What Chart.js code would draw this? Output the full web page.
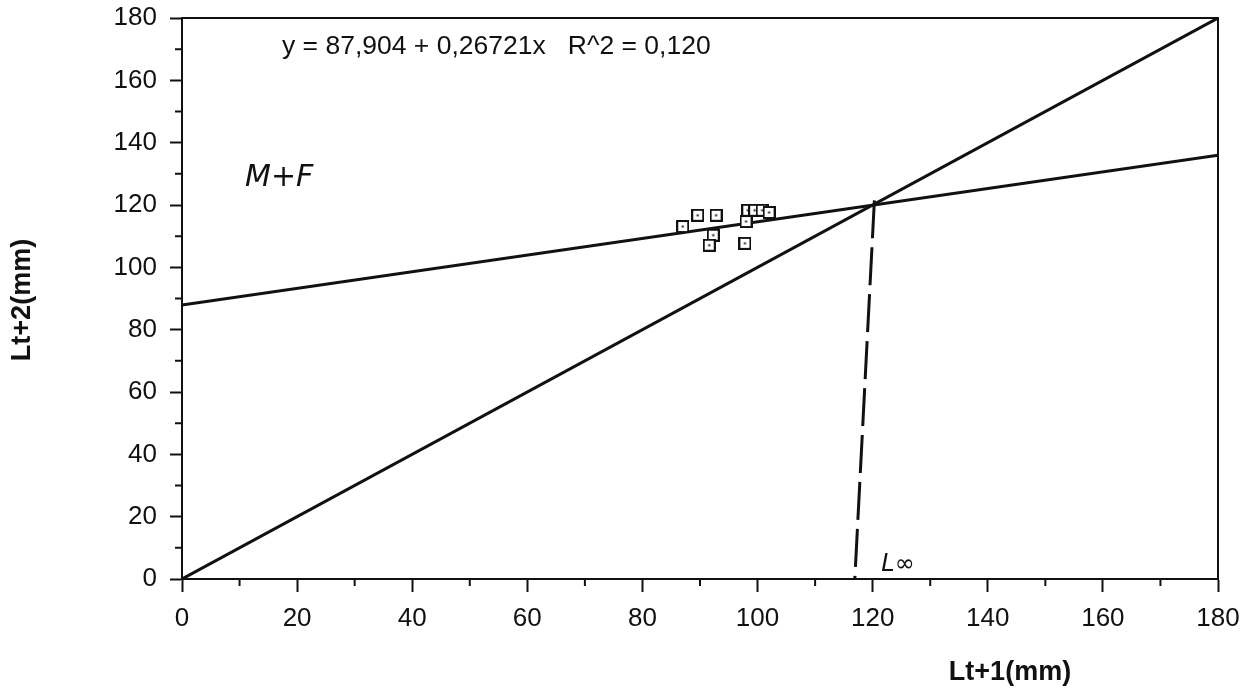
<!DOCTYPE html>
<html>
<head>
<meta charset="utf-8">
<title>Lt+2 vs Lt+1</title>
<script src="https://cdn.jsdelivr.net/npm/chart.js@4.4.1/dist/chart.umd.min.js"></script>
<style>
  html, body { margin: 0; padding: 0; background: #fff; }
  #wrap { width: 1246px; height: 693px; position: relative; }
</style>
</head>
<body>
<div id="wrap"><canvas id="walford"></canvas></div>
<script>
// ---- data ----
const lengthT1 = [87.0, 89.6, 92.8, 92.3, 91.6, 97.8, 98.0, 98.3, 99.5, 100.8, 102.0];
const lengthT2 = [113.1, 116.7, 116.7, 110.3, 107.1, 107.7, 114.7, 118.3, 118.3, 118.3, 117.6];

// regression as printed on the chart
const INTERCEPT = 87.904;
const SLOPE = 0.26721;
const equationText = "y = 87,904 + 0,26721x   R^2 = 0,120";

// bisector and hand drawn L-infinity drop line
const bisectorX = [0, 180];
const bisectorY = [0, 180];
const lInfX = [120.3, 116.9];
const lInfY = [121.5, 0];

const axisTicks = [0, 20, 40, 60, 80, 100, 120, 140, 160, 180];
const minorTicks = [10, 30, 50, 70, 90, 110, 130, 150, 170];

const xTitle = "Lt+1(mm)";
const yTitle = "Lt+2(mm)";
const groupNote = "M+F";
const lInfNote = "L\u221E";

const FONT = "'Liberation Sans', Arial, sans-serif";
const INK = "#111";

const toPoints = (xs, ys) => xs.map((x, i) => ({ x: x, y: ys[i] }));
const regX = [0, 180];
const regLine = regX.map(x => ({ x: x, y: INTERCEPT + SLOPE * x }));

// little square with a dot in the middle, like the original plotter marker
function makeMarker() {
    const c = document.createElement("canvas");
    c.width = 13; c.height = 13;
    const g = c.getContext("2d");
    g.fillStyle = "#fff";
    g.fillRect(0, 0, 13, 13);
    g.strokeStyle = INK;
    g.lineWidth = 2;
    g.strokeRect(1, 1, 11, 11);
    g.fillStyle = INK;
    g.fillRect(5.5, 5.5, 2, 2);
    return c;
}

// frame, minor ticks, titles and notes
const decorPlugin = {
    id: "decor",
    beforeDatasetsDraw(chart) {
        const { ctx, chartArea: a, scales } = chart;
        ctx.save();
        ctx.strokeStyle = INK;
        ctx.lineWidth = 2;
        ctx.strokeRect(a.left, a.top, a.right - a.left, a.bottom - a.top);
        ctx.beginPath();
        minorTicks.forEach(v => {
            const px = scales.x.getPixelForValue(v);
            ctx.moveTo(px, a.bottom);
            ctx.lineTo(px, a.bottom + 7);
            const py = scales.y.getPixelForValue(v);
            ctx.moveTo(a.left, py);
            ctx.lineTo(a.left - 7, py);
        });
        ctx.stroke();
        ctx.restore();
    },
    afterDraw(chart) {
        const { ctx, scales } = chart;
        ctx.save();
        ctx.fillStyle = INK;
        ctx.textBaseline = "middle";

        ctx.font = "26.5px " + FONT;
        ctx.textAlign = "left";
        ctx.fillText(equationText, 282, 47);

        ctx.font = "italic 30px 'DejaVu Sans', sans-serif";
        ctx.fillText(groupNote, 245, 178);

        ctx.font = "italic 24px 'DejaVu Sans', sans-serif";
        ctx.fillText(lInfNote, scales.x.getPixelForValue(121.5), scales.y.getPixelForValue(4.5));

        ctx.font = "bold 27px " + FONT;
        ctx.textAlign = "center";
        ctx.fillText(xTitle, 1010, 673);

        ctx.translate(23, 300);
        ctx.rotate(-Math.PI / 2);
        ctx.fillText(yTitle, 0, 0);
        ctx.restore();
    }
};

const tickFont = { family: FONT, size: 26 };

// keep the plot box where the reference has it, labels may hang over
function noOverhang(s) {
    s.paddingTop = 0; s.paddingBottom = 0;
    s.paddingLeft = 0; s.paddingRight = 0;
}

new Chart(document.getElementById("walford"), {
    type: "scatter",
    data: {
        datasets: [
            {
                label: "observed",
                data: toPoints(lengthT1, lengthT2),
                pointStyle: makeMarker(),
                pointRadius: 6,
                order: 0
            },
            {
                label: "regression",
                data: regLine,
                showLine: true,
                borderColor: INK,
                borderWidth: 3,
                pointRadius: 0,
                order: 1
            },
            {
                label: "bisector",
                data: toPoints(bisectorX, bisectorY),
                showLine: true,
                borderColor: INK,
                borderWidth: 3,
                pointRadius: 0,
                order: 2
            },
            {
                label: "Linf",
                data: toPoints(lInfX, lInfY),
                showLine: true,
                borderColor: INK,
                borderWidth: 3,
                borderDash: [38, 9],
                pointRadius: 0,
                order: 3
            }
        ]
    },
    options: {
        responsive: true,
        maintainAspectRatio: false,
        animation: false,
        layout: { padding: { top: 18, right: 28, left: 0, bottom: 0 } },
        plugins: {
            legend: { display: false },
            tooltip: { enabled: false }
        },
        scales: {
            x: {
                type: "linear",
                min: 0,
                max: 180,
                afterBuildTicks: s => { s.ticks = axisTicks.map(v => ({ value: v })); },
                afterFit: s => { s.height = 114; noOverhang(s); },
                grid: { drawOnChartArea: false, tickLength: 13, tickColor: INK, tickWidth: 2 },
                border: { color: INK, width: 2 },
                ticks: { color: INK, font: tickFont, padding: 11, maxRotation: 0 }
            },
            y: {
                type: "linear",
                min: 0,
                max: 180,
                afterBuildTicks: s => { s.ticks = axisTicks.map(v => ({ value: v })); },
                afterFit: s => { s.width = 182; noOverhang(s); },
                grid: { drawOnChartArea: false, tickLength: 12, tickColor: INK, tickWidth: 2 },
                border: { color: INK, width: 2 },
                ticks: { color: INK, font: tickFont, padding: 13 }
            }
        }
    },
    plugins: [decorPlugin]
});
</script>
</body>
</html>
